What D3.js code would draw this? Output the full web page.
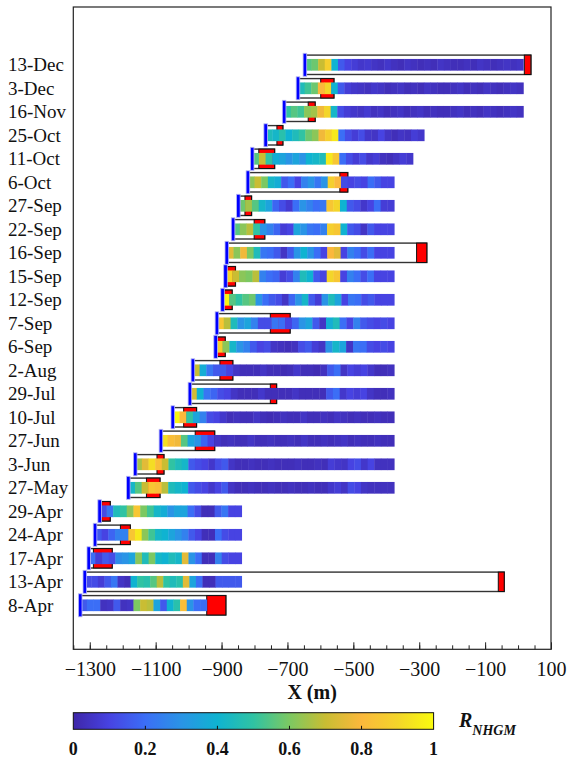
<!DOCTYPE html>
<html>
<head>
<meta charset="utf-8">
<script src="https://cdn.jsdelivr.net/npm/d3@7"></script>
<style>
  body { margin: 0; background: #fff; }
  text { font-family: "Liberation Serif", "Times New Roman", serif; fill: #111; }
</style>
</head>
<body>
<svg id="chart" width="567" height="760"></svg>
<script>
// survey dates, top to bottom
const dates = ["13-Dec", "3-Dec", "16-Nov", "25-Oct", "11-Oct", "6-Oct", "27-Sep", "22-Sep",
  "16-Sep", "15-Sep", "12-Sep", "7-Sep", "6-Sep", "2-Aug", "29-Jul", "10-Jul", "27-Jun",
  "3-Jun", "27-May", "29-Apr", "24-Apr", "17-Apr", "13-Apr", "8-Apr"];

// blue marker (start of strip), X in m
const front = [-647, -668, -710, -766, -807, -820, -849, -865, -884, -888, -897, -914, -918,
  -987, -996, -1048, -1084, -1162, -1183, -1270, -1284, -1303, -1315, -1329];
// end of the coloured strip
const stripEnd = [16, 16, 16, -285, -319, -376, -376, -376, -376, -376, -376, -376, -376,
  -376, -376, -376, -376, -376, -376, -839, -839, -839, -839, -945];
// red box left / right
const redL = [19, -599, -637, -732, -787, -541, -829, -801, -308, -884, -893, -752, -913,
  -905, -752, -1015, -980, -1096, -1128, -1264, -1207, -1289, -60, -945];
const redR = [39, -559, -616, -714, -739, -517, -809, -769, -277, -858, -868, -692, -889,
  -866, -733, -976, -921, -1075, -1087, -1238, -1177, -1232, -42, -887];

// R_NHGM along each strip, equal cells from front to stripEnd
const rnhgm = [
  [0.55,0.58,0.7,0.88,0.4, 0.15,0.1,0.08,0.06,0.07, 0.05,0.04,0.06,0.04,0.03, 0.05,0.04,0.03,0.04,0.03, 0.05,0.04,0.03,0.03,0.04, 0.03,0.05,0.04,0.03,0.04, 0.05,0.04,0.05],
  [0.45,0.52,0.58,0.8,0.9, 0.4,0.15,0.08,0.06,0.05, 0.04,0.06,0.05,0.03,0.04, 0.05,0.03,0.04,0.03,0.05, 0.04,0.03,0.03,0.04,0.05, 0.03,0.04,0.03,0.05,0.04, 0.03,0.04,0.05,0.04],
  [0.5,0.55,0.52,0.62,0.65, 0.78,0.9,0.42,0.12,0.08, 0.06,0.05,0.07,0.04,0.05, 0.03,0.04,0.05,0.03,0.04, 0.05,0.03,0.04,0.03,0.03, 0.04,0.05,0.03,0.04,0.03, 0.05,0.04,0.03,0.04,0.05,0.04],
  [0.45,0.42,0.48,0.4,0.45, 0.5,0.58,0.62,0.78,0.88, 0.95,0.2,0.12,0.08,0.12, 0.06,0.05,0.1,0.05,0.03, 0.05,0.04,0.08,0.06],
  [0.55,0.7,0.5,0.38,0.35, 0.3,0.35,0.3,0.4,0.42, 0.45,0.95,0.85,0.2,0.12, 0.08,0.12,0.06,0.08,0.04, 0.03,0.05,0.08,0.06],
  [0.62,0.7,0.6,0.42,0.38, 0.15,0.2,0.1,0.25,0.3, 0.22,0.3,0.88,0.8,0.12, 0.1,0.12,0.1,0.2,0.15, 0.1,0.1],
  [0.58,0.65,0.55,0.42,0.35, 0.18,0.12,0.07,0.2,0.3, 0.25,0.2,0.22,0.85,0.9, 0.4,0.15,0.12,0.06,0.1, 0.2,0.08,0.08],
  [0.55,0.62,0.68,0.5,0.3, 0.25,0.18,0.08,0.1,0.35, 0.3,0.22,0.2,0.25,0.88, 0.85,0.4,0.15,0.12,0.05, 0.15,0.1,0.1,0.1],
  [0.75,0.62,0.78,0.6,0.45, 0.22,0.2,0.15,0.05,0.15, 0.3,0.4,0.3,0.2,0.1, 0.8,0.75,0.1,0.25,0.2, 0.12,0.2,0.1,0.1,0.1],
  [0.9,0.7,0.62,0.6,0.68, 0.25,0.2,0.18,0.08,0.12, 0.25,0.45,0.4,0.15,0.1, 0.9,0.85,0.1,0.25,0.2, 0.12,0.2,0.1,0.1,0.1],
  [0.98,0.55,0.5,0.55,0.58, 0.3,0.2,0.15,0.12,0.05, 0.18,0.3,0.42,0.15,0.08, 0.3,0.45,0.35,0.1,0.22, 0.2,0.12,0.15,0.1,0.1,0.1],
  [0.85,0.68,0.45,0.3,0.35, 0.25,0.12,0.12,0.22,0.2, 0.1,0.18,0.3,0.35,0.15, 0.05,0.38,0.45,0.2,0.1, 0.25,0.15,0.12,0.1,0.12,0.1],
  [0.88,0.62,0.42,0.3,0.25, 0.15,0.1,0.12,0.05,0.04, 0.03,0.04,0.12,0.15,0.08, 0.05,0.3,0.42,0.35,0.05, 0.22,0.2,0.12,0.1,0.12,0.1],
  [0.7,0.38,0.22,0.15,0.15, 0.1,0.05,0.03,0.03,0.03, 0.05,0.03,0.03,0.02,0.03, 0.06,0.03,0.03,0.02,0.04, 0.15,0.2,0.05,0.1,0.08, 0.1,0.06,0.03,0.03,0.04],
  [0.72,0.4,0.22,0.18,0.12, 0.1,0.05,0.03,0.03,0.03, 0.06,0.03,0.03,0.03,0.03, 0.05,0.03,0.03,0.03,0.03, 0.15,0.2,0.06,0.1,0.08, 0.1,0.05,0.03,0.03,0.04],
  [0.98,0.8,0.5,0.35,0.25, 0.12,0.1,0.06,0.03,0.04, 0.03,0.03,0.05,0.03,0.02, 0.03,0.04,0.03,0.03,0.05, 0.03,0.03,0.04,0.03,0.05, 0.04,0.03,0.04,0.03,0.03, 0.04,0.03,0.03],
  [0.92,0.82,0.78,0.55,0.35, 0.3,0.18,0.1,0.05,0.03, 0.04,0.03,0.03,0.05,0.03, 0.03,0.04,0.03,0.03,0.04, 0.03,0.05,0.03,0.03,0.04, 0.03,0.04,0.05,0.03,0.04, 0.03,0.03,0.04,0.03,0.03],
  [0.65,0.75,0.92,0.82,0.7, 0.5,0.45,0.42,0.15,0.12, 0.1,0.06,0.12,0.15,0.05, 0.03,0.03,0.04,0.03,0.03, 0.04,0.03,0.03,0.03,0.04, 0.03,0.03,0.04,0.03,0.08, 0.06,0.05,0.1,0.12,0.06, 0.1,0.04,0.04,0.04],
  [0.42,0.55,0.7,0.85,0.82, 0.68,0.45,0.42,0.4,0.15, 0.12,0.1,0.06,0.1,0.15, 0.05,0.03,0.03,0.04,0.03, 0.03,0.04,0.03,0.03,0.04, 0.03,0.03,0.04,0.03,0.03, 0.06,0.08,0.05,0.12,0.1, 0.05,0.04,0.04,0.04,0.04],
  [0.12,0.22,0.45,0.5,0.62, 0.85,0.6,0.52,0.42,0.38, 0.3,0.35,0.35,0.2,0.12, 0.03,0.03,0.15,0.22,0.1, 0.1],
  [0.15,0.1,0.18,0.25,0.25, 0.85,0.95,0.62,0.52,0.42, 0.4,0.35,0.3,0.25,0.15, 0.1,0.03,0.03,0.2,0.12, 0.1,0.1],
  [0.2,0.08,0.15,0.12,0.28, 0.3,0.35,0.62,0.45,0.6, 0.42,0.4,0.45,0.42,0.75, 0.3,0.2,0.03,0.03,0.25, 0.12,0.1,0.1],
  [0.12,0.12,0.08,0.15,0.22, 0.05,0.03,0.4,0.5,0.48, 0.55,0.68,0.5,0.45,0.48, 0.75,0.35,0.2,0.03,0.03, 0.15,0.15,0.15,0.15],
  [0.15,0.2,0.2,0.04,0.05, 0.15,0.04,0.05,0.6,0.7, 0.68,0.35,0.15,0.4,0.48, 0.82,0.3,0.2,0.2]
];

const xMajor = d3.range(-1300, 101, 200);
const xMinor = d3.range(-1350, 101, 50);
const cbTicks = [0, 0.2, 0.4, 0.6, 0.8, 1];

// parula-like colour ramp
const parulaStops = [0, 0.1, 0.2, 0.3, 0.4, 0.5, 0.6, 0.7, 0.8, 0.9, 1];
const parulaCols = ["#3e26a8", "#4743e2", "#3b6ef6", "#2a94e6", "#0fb3d1", "#30c3a3",
  "#7cc862", "#c9bd33", "#fbb83c", "#f3d52a", "#f9fb0e"];

const svg = d3.select("#chart");
const frame = {left: 73.3, right: 551, top: 7, bottom: 649.3};

const x = d3.scaleLinear().domain([-1350, 100]).range([frame.left, frame.right]);
const y = d3.scalePoint().domain(dates).range([64.8, 605.3]);
const color = d3.scaleLinear().domain(parulaStops).range(parulaCols).interpolate(d3.interpolateRgb);

const boxH = 19.4, stripH = 11.7, barH = 23;

// frame
svg.append("rect")
    .attr("x", frame.left).attr("y", frame.top)
    .attr("width", frame.right - frame.left).attr("height", frame.bottom - frame.top)
    .attr("fill", "none").attr("stroke", "#222").attr("stroke-width", 1.2);

// x axis, ticks pointing inward
const gx = svg.append("g").attr("transform", `translate(0,${frame.bottom})`);
gx.append("g")
    .call(d3.axisBottom(x).tickValues(xMinor).tickSize(-4).tickFormat(""))
    .call(g => g.select(".domain").remove());
gx.append("g")
    .call(d3.axisBottom(x).tickValues(xMajor).tickSize(-7).tickPadding(13).tickFormat(d3.format("d")))
    .call(g => g.select(".domain").remove())
    .call(g => g.selectAll("text").attr("font-size", 20).attr("font-family", "Liberation Serif").attr("fill", "#111"));
svg.selectAll(".tick line").attr("stroke", "#222");

svg.append("text")
    .attr("x", (frame.left + frame.right) / 2).attr("y", 698.5)
    .attr("text-anchor", "middle")
    .attr("font-size", 20).attr("font-weight", "bold")
    .text("X (m)");

// y labels
svg.append("g").selectAll("text")
    .data(dates)
    .join("text")
    .attr("x", 8).attr("y", d => y(d)).attr("dy", "0.35em")
    .attr("font-size", 19)
    .text(d => d);

// rows
const rows = dates.map((d, i) => ({date: d, front: front[i], end: stripEnd[i], redL: redL[i], redR: redR[i], vals: rnhgm[i]}));
const gRow = svg.append("g").selectAll("g").data(rows).join("g")
    .attr("transform", d => `translate(0,${y(d.date)})`);

gRow.append("rect")
    .attr("x", d => x(d.front)).attr("y", -boxH / 2)
    .attr("width", d => x(d.redR) - x(d.front)).attr("height", boxH)
    .attr("fill", "#fff").attr("stroke", "#333").attr("stroke-width", 1.4);

gRow.append("rect")
    .attr("x", d => x(d.redL)).attr("y", -boxH / 2)
    .attr("width", d => x(d.redR) - x(d.redL)).attr("height", boxH)
    .attr("fill", "#ff0000").attr("stroke", "#111").attr("stroke-width", 1);

gRow.each(function(d) {
    const n = d.vals.length;
    const w = (d.end - d.front) / n;
    d3.select(this).append("g").selectAll("rect")
        .data(d.vals)
        .join("rect")
        .attr("x", (v, j) => x(d.front + j * w))
        .attr("width", (v, j) => x(d.front + (j + 1) * w) - x(d.front + j * w) + 0.4)
        .attr("y", -stripH / 2).attr("height", stripH)
        .attr("fill", v => color(v));
});

gRow.append("rect")
    .attr("x", d => x(d.front) - 1.8).attr("y", -barH / 2)
    .attr("width", 3.6).attr("height", barH)
    .attr("fill", "#0000ff").attr("stroke", "#b9b9f2").attr("stroke-width", 0.8);

// colour bar
const cb = {x0: 73.3, x1: 433.6, y0: 712.7, y1: 729.3};
const cbx = d3.scaleLinear().domain([0, 1]).range([cb.x0, cb.x1]);
const grad = svg.append("defs").append("linearGradient").attr("id", "parula")
    .attr("x1", "0%").attr("x2", "100%").attr("y1", "0%").attr("y2", "0%");
grad.selectAll("stop").data(d3.range(0, 1.0001, 0.02)).join("stop")
    .attr("offset", d => `${d * 100}%`)
    .attr("stop-color", d => color(d));
svg.append("rect")
    .attr("x", cb.x0).attr("y", cb.y0)
    .attr("width", cb.x1 - cb.x0).attr("height", cb.y1 - cb.y0)
    .attr("fill", "url(#parula)").attr("stroke", "#111").attr("stroke-width", 1);
svg.append("g").selectAll("line").data(cbTicks.slice(1, -1)).join("line")
    .attr("x1", d => cbx(d)).attr("x2", d => cbx(d))
    .attr("y1", cb.y1).attr("y2", cb.y1 - 3.5)
    .attr("stroke", "#111");
svg.append("g").selectAll("text").data(cbTicks).join("text")
    .attr("x", d => cbx(d)).attr("y", 754.5)
    .attr("text-anchor", "middle")
    .attr("font-size", 18).attr("font-weight", "bold")
    .text(d => d);

const rl = svg.append("text")
    .attr("x", 459).attr("y", 727)
    .attr("font-size", 20).attr("font-weight", "bold").attr("font-style", "italic");
rl.append("tspan").text("R");
rl.append("tspan").attr("font-size", 14).attr("dy", 8).text("NHGM");
</script>
</body>
</html>
